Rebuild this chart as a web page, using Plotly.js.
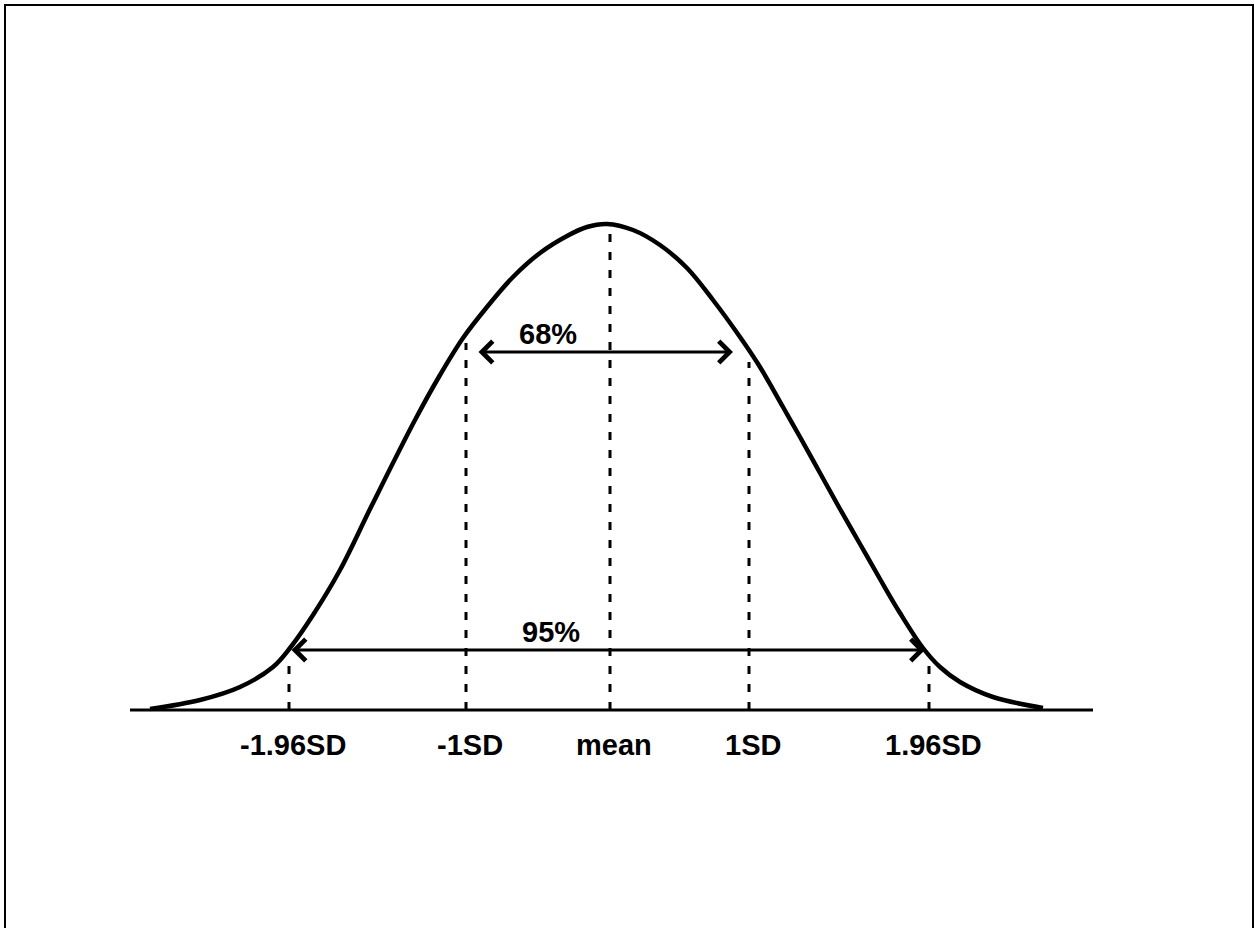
<!DOCTYPE html>
<html>
<head>
<meta charset="utf-8">
<script src="https://cdn.plot.ly/plotly-3.0.1.min.js"></script>
<style>html,body{margin:0;padding:0;background:#fff;}#chart{width:1255px;height:928px;}</style>
</head>
<body>
<div id="chart"></div>
<script>
// Bell curve (x: horizontal position, y: height above baseline)
const curveX = [150, 200, 240, 273, 290, 313, 340, 372, 415, 440, 463, 487, 513, 540, 567, 587, 607, 633, 660, 687, 713, 740, 760, 783, 800, 820, 840, 860, 880, 900, 923, 940, 960, 993, 1043];
const curveY = [1, 10, 23, 43, 62, 95, 140, 205, 290, 335, 372, 403, 433, 457, 474, 483, 486, 480, 465, 442, 410, 373, 343, 303, 273, 237, 201, 166, 131, 97, 62, 43, 28, 13, 2];

// Baseline extent
const baseX = [130, 1093];

// Reference markers: tick labels, positions and heights of the dashed lines
const tickLabels = ["-1.96SD", "-1SD", "mean", "1SD", "1.96SD"];
const tickX = [289, 466, 610, 749, 929];
const dashTop = [50, 367, 484, 348, 46];

// Interval arrows
const intervalLabels = ["68%", "95%"];
const intervalFrom = [477, 290];
const intervalTo = [733, 925];
const intervalY = [358, 60];

const traces = [];
traces.push({x: curveX, y: curveY, mode: 'lines', line: {color: '#000', width: 4.5, shape: 'spline', smoothing: 1}, hoverinfo: 'skip'});
traces.push({x: baseX, y: [0, 0], mode: 'lines', line: {color: '#000', width: 3}, hoverinfo: 'skip'});
tickX.forEach((xv, i) => {
  traces.push({x: [xv, xv], y: [0, dashTop[i]], mode: 'lines', line: {color: '#000', width: 3, dash: '8px,10px'}, hoverinfo: 'skip'});
});

const font = {family: 'Liberation Sans, Arial, sans-serif', size: 29, color: '#000', weight: 'bold'};
const annotations = [];
tickLabels.forEach((t, i) => {
  annotations.push({x: tickX[i] + 4, y: -35, xref: 'x', yref: 'y', text: t, showarrow: false, font: font, xanchor: 'center', yanchor: 'middle'});
});
intervalLabels.forEach((t, i) => {
  annotations.push({
    x: intervalTo[i], y: intervalY[i], ax: intervalFrom[i], ay: intervalY[i],
    xref: 'x', yref: 'y', axref: 'x', ayref: 'y', text: '', showarrow: true,
    arrowhead: 4, startarrowhead: 4, arrowside: 'end+start', arrowsize: 1.4, startarrowsize: 1.4,
    arrowwidth: 3, arrowcolor: '#000', standoff: 0, startstandoff: 0
  });
  annotations.push({x: (intervalFrom[i] + intervalTo[i]) / 2 - 57, y: intervalY[i] + 18, xref: 'x', yref: 'y', text: t, showarrow: false, font: font, xanchor: 'center', yanchor: 'middle'});
});

const layout = {
  width: 1255, height: 928,
  margin: {l: 0, r: 0, t: 0, b: 0},
  paper_bgcolor: '#fff', plot_bgcolor: '#fff',
  showlegend: false,
  xaxis: {range: [0, 1255], visible: false, fixedrange: true},
  yaxis: {range: [-218, 710], visible: false, fixedrange: true},
  annotations: annotations,
  shapes: [{type: 'path', xref: 'x', yref: 'y', path: 'M 5,-230 L 5,705 L 1253,705 L 1253,-230', line: {color: '#000', width: 2}}]
};

Plotly.newPlot('chart', traces, layout, {staticPlot: true, displayModeBar: false});
</script>
</body>
</html>
